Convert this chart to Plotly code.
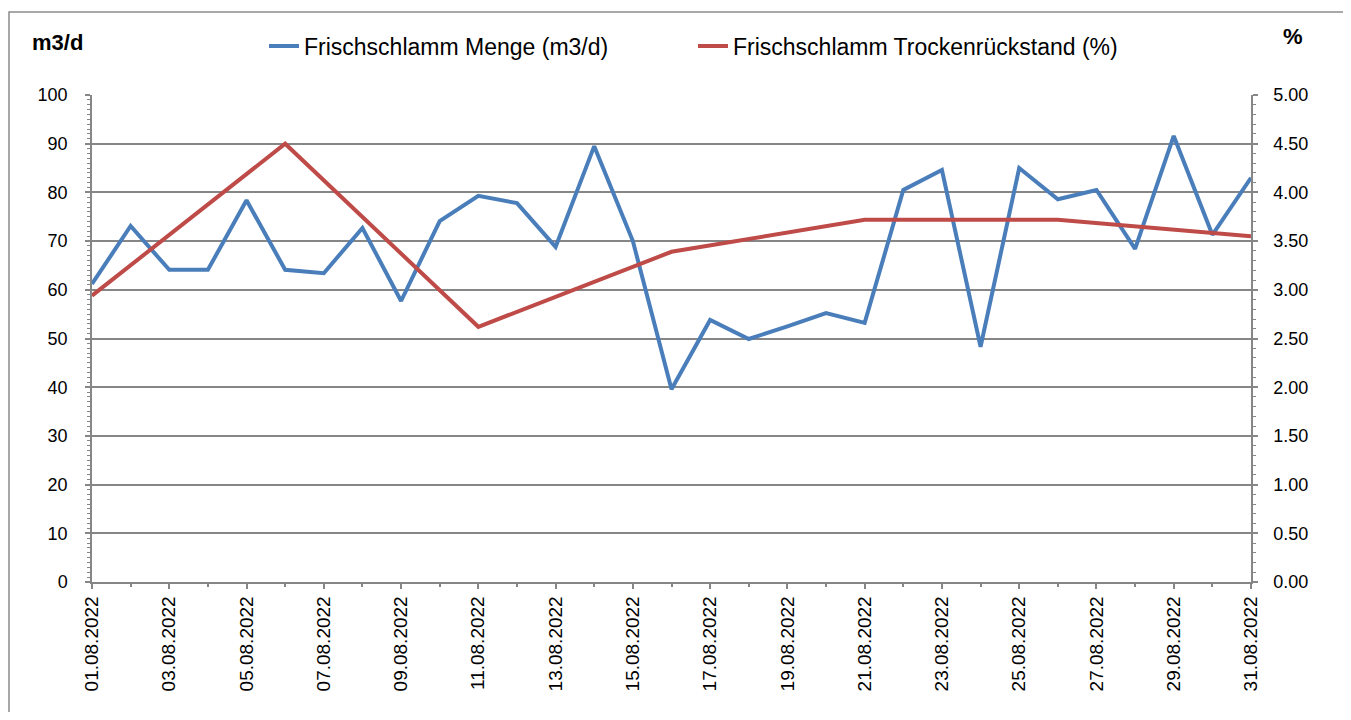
import plotly.graph_objects as go

dates = ["2022-08-%02d" % d for d in range(1, 32)]

menge = [61.2, 73.1, 64.1, 64.1, 78.4, 64.1, 63.4, 72.7, 57.7, 74.1,
         79.3, 77.8, 68.8, 89.5, 70.0, 39.6, 53.8, 49.9, 52.5, 55.2,
         53.2, 80.5, 84.6, 48.3, 85.0, 78.6, 80.5, 68.4, 91.6, 71.3, 83.0]

trocken = [2.94, None, None, None, None, 4.50, None, None, None, None,
           2.62, None, None, None, None, 3.39, None, None, None, None,
           3.72, None, None, None, None, 3.72, None, None, None, None, 3.55]

left_ticks = list(range(0, 101, 10))
right_ticks = [i * 0.5 for i in range(11)]

BLUE = "#4A7EBB"
RED = "#BE4B48"
GRID = "#868686"
FONT = "Liberation Sans, Arial, sans-serif"

fig = go.Figure()
fig.add_trace(go.Scatter(x=dates, y=menge, mode="lines", name="Frischschlamm Menge (m3/d)",
                         line=dict(color=BLUE, width=4), yaxis="y"))
fig.add_trace(go.Scatter(x=dates, y=trocken, mode="lines", name="Frischschlamm Trockenrückstand (%)",
                         line=dict(color=RED, width=4), yaxis="y2", connectgaps=True))

# page offset of the default body margin
OFF = 8
PL, PR, PT, PB = 92, 1251, 95, 582   # plot area in page pixels
W, H = 1351 - OFF, 720 - 2 * OFF
pw, ph = PR - PL, PB - PT
L = PL - OFF
T = PT - OFF
R = W - L - pw
B = H - T - ph

def px(x):
    return (x - PL) / pw

def py(y):
    return (PB - y) / ph

fig.update_layout(
    width=W, height=H,
    margin=dict(l=L, r=R, t=T, b=B, pad=0),
    paper_bgcolor="white", plot_bgcolor="white",
    font=dict(family=FONT, size=18, color="black"),
    showlegend=True,
    legend=dict(orientation="h", x=px(264), y=py(46), xanchor="left", yanchor="middle",
                font=dict(size=23, family=FONT, color="black"),
                entrywidth=384, entrywidthmode="pixels", itemwidth=30,
                bgcolor="rgba(0,0,0,0)"),
    xaxis=dict(
        type="date", range=[dates[0], dates[-1]],
        tick0=dates[0], dtick=2 * 86400000, tickformat="%d.%m.%Y", tickangle=-90,
        showgrid=False, showline=True, linecolor=GRID, linewidth=1.5,
        ticks="outside", ticklen=5, tickwidth=1.5, tickcolor=GRID,
        tickfont=dict(size=19, family=FONT, color="black"),
        minor=dict(dtick=86400000, tick0=dates[0], ticks="outside", ticklen=3,
                   tickwidth=1.5, tickcolor=GRID, showgrid=False),
        zeroline=False, fixedrange=True,
    ),
    yaxis=dict(
        range=[0, 100], tickvals=left_ticks, showgrid=True, gridcolor=GRID, gridwidth=1.5,
        showline=True, linecolor=GRID, linewidth=1.5,
        ticks="outside", ticklen=5, tickwidth=1.5, tickcolor=GRID,
        ticklabelstandoff=14,
        tickfont=dict(size=18, family=FONT, color="black"),
        minor=dict(dtick=1, ticks="outside", ticklen=3, tickwidth=1, tickcolor=GRID, showgrid=False),
        zeroline=False,
    ),
    yaxis2=dict(
        range=[0, 5], tickvals=right_ticks, tickformat=".2f", overlaying="y", side="right",
        showgrid=False, showline=True, linecolor=GRID, linewidth=1.5,
        ticks="outside", ticklen=5, tickwidth=1.5, tickcolor=GRID,
        ticklabelstandoff=12,
        tickfont=dict(size=18, family=FONT, color="black"),
        minor=dict(dtick=0.1, ticks="outside", ticklen=3, tickwidth=1, tickcolor=GRID, showgrid=False),
        zeroline=False,
    ),
    annotations=[
        dict(text="<b>m3/d</b>", xref="paper", yref="paper", x=px(30), y=py(42),
             xanchor="left", yanchor="middle", showarrow=False,
             font=dict(size=22, family=FONT, color="black")),
        dict(text="<b>%</b>", xref="paper", yref="paper", x=px(1293), y=py(37),
             xanchor="center", yanchor="middle", showarrow=False,
             font=dict(size=22, family=FONT, color="black")),
    ],
    shapes=[
        dict(type="rect", xref="paper", yref="paper", x0=px(9), x1=px(1345), y0=py(740), y1=py(12),
             line=dict(color="#8C8C8C", width=1.5), fillcolor="rgba(0,0,0,0)", layer="below"),
    ],
)

fig.write_html("out.html")
